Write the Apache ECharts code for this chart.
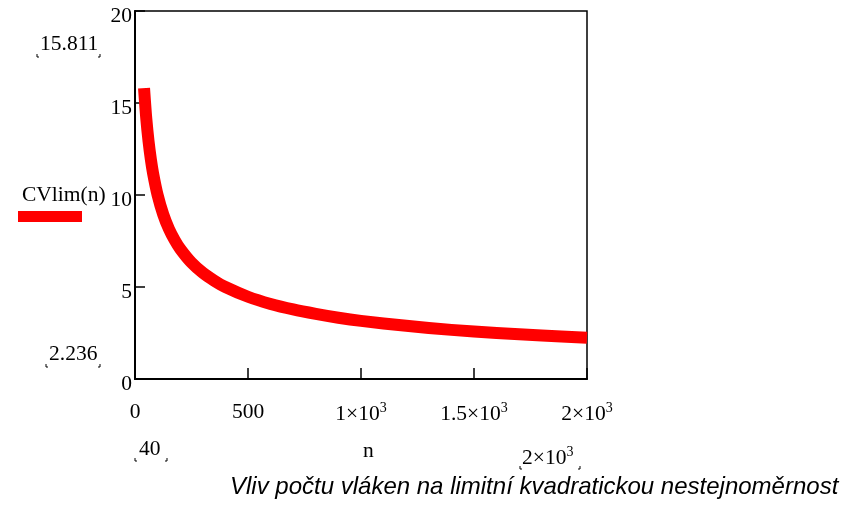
<!DOCTYPE html>
<html>
<head>
<meta charset="utf-8">
<script src="https://cdn.jsdelivr.net/npm/echarts@6/dist/echarts.min.js"></script>
<style>html,body{margin:0;padding:0;background:#fff}#c{width:848px;height:505px}</style>
</head>
<body>
<div id="c"></div>
<script>
// values
var nValues = [40, 50, 60, 70, 80, 100, 125, 150, 175, 200, 250, 300, 350, 400, 500, 600, 700, 800, 900, 1000, 1200, 1400, 1600, 1800, 2000];
var cvValues = [15.81, 14.14, 12.91, 11.95, 11.18, 10.0, 8.94, 8.16, 7.56, 7.07, 6.32, 5.77, 5.35, 5.0, 4.47, 4.08, 3.78, 3.54, 3.33, 3.16, 2.89, 2.67, 2.50, 2.36, 2.24];
var xTicks = [0, 500, 1000, 1500, 2000];
var yTicks = [0, 5, 10, 15, 20];

var serif = '"Liberation Serif","DejaVu Serif",serif';
var fs = 21.5;

function xLabel(v) {
  if (v >= 1000) {
    var m = v / 1000;
    return m + '\u00d710{sup|3}';
  }
  return String(v);
}

var chart = echarts.init(document.getElementById('c'), null, {renderer: 'canvas'});

function bracketed(x, y, w) {
  // small Mathcad-style corner marks around a placeholder value
  return [
    {type: 'polyline', shape: {points: [[x, y - 3], [x, y], [x + 2, y]]}, style: {stroke: '#000', lineWidth: 1, fill: null}},
    {type: 'polyline', shape: {points: [[x + w - 2, y], [x + w, y], [x + w, y - 3]]}, style: {stroke: '#000', lineWidth: 1, fill: null}}
  ];
}

var supRich = {sup: {fontSize: 14, fontFamily: serif, verticalAlign: 'top', padding: [0, 0, 13, 0]}};

var graphics = [
  {type: 'text', left: 40, top: 33, style: {text: '15.811', font: fs + 'px ' + serif, fill: '#000'}},
  {type: 'text', left: 49, top: 343, style: {text: '2.236', font: fs + 'px ' + serif, fill: '#000'}},
  {type: 'text', left: 139, top: 438, style: {text: '40', font: fs + 'px ' + serif, fill: '#000'}},
  {type: 'text', left: 522, top: 445, style: {
    text: '2\u00d710{sup|3}', font: fs + 'px ' + serif, fill: '#000', rich: supRich
  }},
  {type: 'text', left: 363, top: 440, style: {text: 'n', font: fs + 'px ' + serif, fill: '#000'}},
  {type: 'text', left: 22, top: 184, style: {text: 'CVlim(n)', font: fs + 'px ' + serif, fill: '#000'}},
  {type: 'rect', shape: {x: 18, y: 211, width: 64, height: 11}, style: {fill: '#ff0000'}},
  {type: 'text', left: 230, top: 475, style: {text: 'Vliv počtu vláken na limitní kvadratickou nestejnoměrnost', font: 'italic 24px "Liberation Sans", Arial, sans-serif', fill: '#000'}}
];
graphics = graphics.concat(bracketed(37, 57, 63), bracketed(46, 367, 54), bracketed(135, 461, 32), bracketed(520, 469, 60));

chart.setOption({
  animation: false,
  backgroundColor: '#fff',
  grid: {left: 135, right: 261, top: 11, bottom: 126, show: true, borderColor: '#000', borderWidth: 1.5, backgroundColor: 'transparent'},
  xAxis: {
    type: 'value', min: 0, max: 2000, interval: 500,
    axisLine: {show: true, lineStyle: {color: '#000', width: 2}},
    axisTick: {show: true, inside: true, length: 11, lineStyle: {color: '#000', width: 1.5}},
    splitLine: {show: false},
    axisLabel: {
      color: '#000', fontFamily: serif, fontSize: fs, margin: 22,
      formatter: function (v) { return xLabel(v); },
      rich: supRich,
      customValues: xTicks
    }
  },
  yAxis: {
    type: 'value', min: 0, max: 20, interval: 5,
    axisLine: {show: true, lineStyle: {color: '#000', width: 2}},
    axisTick: {show: true, inside: true, length: 10, lineStyle: {color: '#000', width: 1.5}},
    splitLine: {show: false},
    axisLabel: {color: '#000', fontFamily: serif, fontSize: fs, margin: 3, verticalAlign: 'top', lineHeight: 10, customValues: yTicks}
  },
  series: [{
    type: 'line',
    data: nValues.map(function (n, i) { return [n, cvValues[i]]; }),
    smooth: 0.3,
    showSymbol: false,
    lineStyle: {color: '#ff0000', width: 12, cap: 'butt', join: 'round'},
    clip: true
  }],
  graphic: graphics
});
</script>
</body>
</html>
